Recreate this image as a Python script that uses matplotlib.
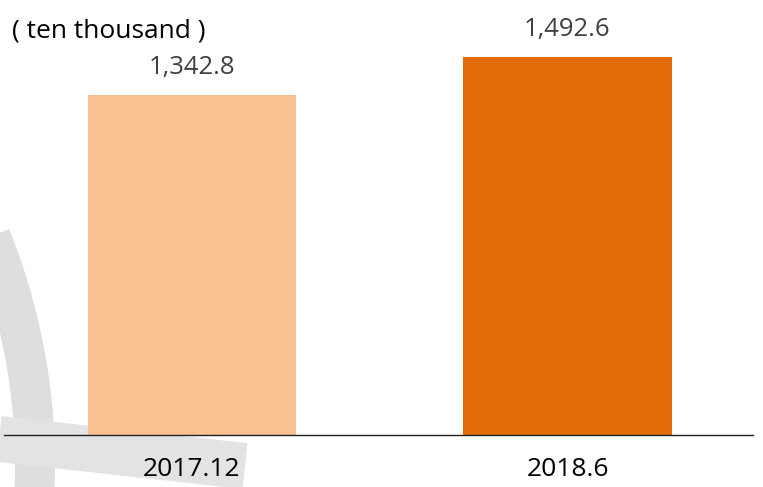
import matplotlib
matplotlib.use('Agg')
import matplotlib.pyplot as plt
from matplotlib.patches import Arc

plt.rcParams['font.family'] = ['Open Sans', 'DejaVu Sans']

categories = ['2017.12', '2018.6']
values = [1342.8, 1492.6]
value_labels = ['1,342.8', '1,492.6']
unit_label = '( ten thousand )'
colours = ['#F8C192', '#E36C0A']

W, H = 763, 487
fig = plt.figure(figsize=(W / 100, H / 100), dpi=100)

# faint watermark in the background (pixel coordinates)
bg = fig.add_axes([0, 0, 1, 1], zorder=0)
bg.set_xlim(0, W)
bg.set_ylim(H, 0)
bg.axis('off')
bg.add_patch(Arc((-575, 465), 1220, 1220, theta1=-22, theta2=35,
                 color='#DDDEE0', lw=40 * 0.72))
bg.plot([-10, 245], [438, 466], color='#E2E3E4', lw=46 * 0.72,
        solid_capstyle='butt')

# main bar axes
ax = fig.add_axes([4 / W, (H - 435) / H, (753 - 4) / W, 435 / H], zorder=1)
ax.patch.set_alpha(0)
x = range(len(categories))
bars = ax.bar(x, values, width=0.556, color=colours)
ax.set_xlim(-0.5007, 1.494)
ax.set_ylim(0, 1718)

for sp in ['top', 'right', 'left']:
    ax.spines[sp].set_visible(False)
ax.spines['bottom'].set_color('#222222')
ax.spines['bottom'].set_linewidth(1.0)
ax.set_yticks([])
ax.set_xticks(list(x))
ax.set_xticklabels(categories, fontsize=19, color='black')
ax.tick_params(axis='x', length=0, pad=16)

for xi, v, lab in zip(x, values, value_labels):
    ax.annotate(lab, (xi, v), textcoords='offset points', xytext=(0, 15),
                ha='center', va='baseline', fontsize=18.5, color='#404040')

fig.text(12 / W, 1 - 37 / H, unit_label, fontsize=19, color='black',
         ha='left', va='baseline')

fig.savefig('out.png', dpi=100)
